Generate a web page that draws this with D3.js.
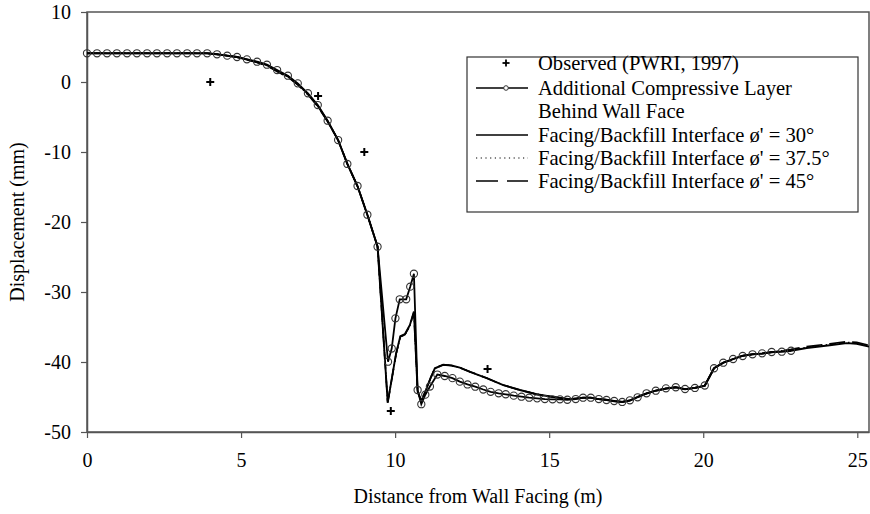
<!DOCTYPE html>
<html><head><meta charset="utf-8">
<script src="https://cdn.jsdelivr.net/npm/d3@7"></script>
<style>
html,body{margin:0;padding:0;background:#fff;}
text{font-family:"Liberation Serif","Times New Roman",serif;fill:#000;}
</style></head>
<body><svg id="c" width="870" height="514"></svg>
<script>
// ---- data ----
const observedX = [4.0, 7.5, 9.0, 9.86, 13.0];
const observedY = [0, -2, -10, -47, -41];

const compX = [0,0.325,0.65,0.97,1.30,1.62,1.95,2.27,2.60,2.92,3.25,3.57,3.90,
  4.22,4.55,4.87,5.19,5.52,5.84,6.17,6.52,6.84,7.17,7.49,7.81,8.15,8.45,8.78,9.10,9.43,
  9.77,9.89,10.01,10.15,10.36,10.49,10.61,
  10.73,10.85,10.98,11.13,11.37,
  11.61,11.86,12.10,12.35,12.60,12.86,13.10,13.36,13.59,13.85,14.10,14.35,14.61,14.86,15.11,15.35,15.59,15.86,
  16.10,16.35,16.61,16.86,17.11,17.37,17.62,17.87,
  18.16,18.46,18.79,19.11,19.41,19.73,20.05,
  20.35,20.65,20.97,21.28,21.60,21.91,22.22,22.55,22.85];
const compY = [4.1,4.1,4.1,4.1,4.1,4.1,4.1,4.1,4.1,4.1,4.1,4.1,4.1,
  3.96,3.76,3.57,3.24,2.9,2.47,1.71,0.9,-0.19,-1.61,-3.29,-5.53,-8.29,-11.71,-14.86,-18.96,-23.53,
  -39.96,-38.07,-33.76,-31.04,-31.04,-29.24,-27.39,
  -44.0,-46.03,-44.67,-43.5,-41.79,
  -42.0,-42.31,-42.81,-43.21,-43.53,-43.93,-44.26,-44.47,-44.61,-44.81,-44.96,-45.1,-45.19,-45.29,-45.33,-45.33,-45.39,-45.29,
  -45.1,-45.1,-45.29,-45.43,-45.57,-45.71,-45.47,-45.04,
  -44.47,-44.1,-43.76,-43.61,-43.86,-43.71,-43.36,
  -40.89,-40.1,-39.57,-39.14,-38.9,-38.76,-38.57,-38.53,-38.39];

const ifaceX = [0,0.65,1.3,1.95,2.6,3.25,3.9,4.22,4.55,4.87,5.19,5.52,5.84,6.17,6.52,6.84,7.17,7.49,7.81,8.15,8.45,8.78,9.10,9.43,
  9.76,10.03,10.17,10.32,10.48,10.61,10.73,10.85,11.0,11.15,11.29,11.56,11.83,12.10,12.43,12.97,13.51,14.05,14.59,15.13,15.67,
  16.10,16.35,16.61,16.86,17.11,17.37,17.62,17.87,18.16,18.46,18.79,19.11,19.41,19.73,20.05,
  20.35,20.65,20.97,21.28,21.60,21.91,22.22,22.55,22.85,23.36,24.11,24.66,24.98,25.38];
const iface30 = [4.1,4.1,4.1,4.1,4.1,4.1,4.1,3.96,3.76,3.57,3.22,2.85,2.4,1.6,0.8,-0.3,-1.7,-3.4,-5.6,-8.3,-11.7,-14.9,-19.0,-23.5,
  -45.8,-38.8,-36.3,-36.0,-34.7,-32.8,-44.2,-45.6,-44.0,-42.3,-40.9,-40.4,-40.5,-40.8,-41.4,-42.3,-43.3,-44.0,-44.6,-45.0,-45.3,
  -45.1,-45.1,-45.3,-45.4,-45.6,-45.7,-45.5,-45.0,-44.5,-44.1,-43.8,-43.6,-43.9,-43.7,-43.4,
  -40.9,-40.1,-39.6,-39.1,-38.9,-38.8,-38.6,-38.5,-38.4,-38.0,-37.6,-37.3,-37.4,-37.8];
const iface375 = [4.1,4.1,4.1,4.1,4.1,4.1,4.1,3.96,3.76,3.55,3.2,2.82,2.35,1.55,0.75,-0.35,-1.75,-3.45,-5.6,-8.3,-11.7,-14.9,-19.0,-23.5,
  -45.8,-38.9,-36.4,-36.1,-34.8,-32.9,-44.2,-45.6,-44.0,-42.3,-40.9,-40.4,-40.5,-40.8,-41.4,-42.3,-43.3,-44.0,-44.6,-45.0,-45.3,
  -45.1,-45.1,-45.3,-45.4,-45.6,-45.7,-45.5,-45.0,-44.5,-44.1,-43.8,-43.6,-43.9,-43.7,-43.4,
  -40.9,-40.1,-39.6,-39.1,-38.9,-38.8,-38.6,-38.4,-38.3,-37.9,-37.5,-37.2,-37.3,-37.7];
const iface45 = [4.1,4.1,4.1,4.1,4.1,4.1,4.1,3.96,3.76,3.55,3.18,2.8,2.3,1.5,0.7,-0.4,-1.8,-3.5,-5.65,-8.3,-11.7,-14.9,-19.0,-23.5,
  -45.8,-38.9,-36.4,-36.1,-34.8,-32.9,-44.2,-45.6,-44.0,-42.3,-40.9,-40.4,-40.5,-40.8,-41.4,-42.3,-43.3,-44.0,-44.6,-45.0,-45.3,
  -45.1,-45.1,-45.3,-45.4,-45.6,-45.7,-45.5,-45.0,-44.5,-44.1,-43.8,-43.6,-43.9,-43.7,-43.4,
  -40.9,-40.1,-39.6,-39.1,-38.9,-38.8,-38.6,-38.4,-38.2,-37.8,-37.4,-37.1,-37.2,-37.6];

const xTicks = [0, 5, 10, 15, 20, 25];
const yTicks = [10, 0, -10, -20, -30, -40, -50];
const legendLabels = ["Observed (PWRI, 1997)", "Additional Compressive Layer", "Behind Wall Face",
  "Facing/Backfill Interface \u00f8' = 30\u00b0", "Facing/Backfill Interface \u00f8' = 37.5\u00b0",
  "Facing/Backfill Interface \u00f8' = 45\u00b0"];

// ---- layout ----
const L = 87, R = 869, T = 12, B = 432;
const FONT = '"Liberation Serif","Times New Roman",serif';
const svg = d3.select("#c");
const x = d3.scaleLinear().domain([0, 25.38]).range([L, R]);
const y = d3.scaleLinear().domain([-50, 10]).range([B, T]);
const axisColor = "#555";

svg.append("rect").attr("x", L).attr("y", T).attr("width", R - L).attr("height", B - T)
  .attr("fill", "none").attr("stroke", axisColor).attr("stroke-width", 1.5);

const gx = svg.append("g").attr("transform", `translate(0,${B})`)
  .call(d3.axisBottom(x).tickValues(xTicks).tickSize(6).tickSizeOuter(0).tickPadding(15).tickFormat(d => String(d)));
const gy = svg.append("g").attr("transform", `translate(${L},0)`)
  .call(d3.axisLeft(y).tickValues(yTicks).tickSize(6).tickSizeOuter(0).tickPadding(10).tickFormat(d => String(d)));
[gx, gy].forEach(g => {
  g.attr("font-family", FONT).attr("font-size", 20);
  g.select(".domain").attr("stroke", axisColor).attr("stroke-width", 1.5);
  g.selectAll(".tick line").attr("stroke", axisColor).attr("stroke-width", 1.2);
  g.selectAll(".tick text").attr("fill", "#000");
});

svg.append("text").attr("x", (L + R) / 2).attr("y", 503).attr("text-anchor", "middle")
  .attr("font-size", 20).text("Distance from Wall Facing (m)");
svg.append("text").attr("transform", `translate(24,${(T + B) / 2}) rotate(-90)`).attr("text-anchor", "middle")
  .attr("font-size", 20).text("Displacement (mm)");

const line = d3.line().x(d => x(d[0])).y(d => y(d[1]));
const plot = svg.append("g");
const ifacePts = arr => ifaceX.map((v, i) => [v, arr[i]]);
plot.append("path").datum(ifacePts(iface45)).attr("d", line).attr("fill", "none")
  .attr("stroke", "#000").attr("stroke-width", 1.6).attr("stroke-dasharray", "16,7");
plot.append("path").datum(ifacePts(iface375)).attr("d", line).attr("fill", "none")
  .attr("stroke", "#000").attr("stroke-width", 1.5).attr("stroke-dasharray", "1.5,3");
plot.append("path").datum(ifacePts(iface30)).attr("d", line).attr("fill", "none")
  .attr("stroke", "#000").attr("stroke-width", 1.9);

const compPts = compX.map((v, i) => [v, compY[i]]);
plot.append("path").datum(compPts).attr("d", line).attr("fill", "none")
  .attr("stroke", "#000").attr("stroke-width", 1.8);
plot.selectAll("circle.c").data(compPts).join("circle").attr("class", "c")
  .attr("cx", d => x(d[0])).attr("cy", d => y(d[1])).attr("r", 3.6)
  .attr("fill", "none").attr("stroke", "#333").attr("stroke-width", 1.1);

const obsPts = observedX.map((v, i) => [v, observedY[i]]);
const cross = plot.selectAll("g.obs").data(obsPts).join("g").attr("class", "obs")
  .attr("transform", d => `translate(${x(d[0])},${y(d[1])})`);
cross.append("line").attr("x1", -4).attr("x2", 4).attr("stroke", "#000").attr("stroke-width", 2);
cross.append("line").attr("y1", -4).attr("y2", 4).attr("stroke", "#000").attr("stroke-width", 2);

// ---- legend ----
const lg = svg.append("g");
lg.append("rect").attr("x", 467).attr("y", 57).attr("width", 391).attr("height", 155)
  .attr("fill", "#fff").attr("stroke", "#333").attr("stroke-width", 1.2);
const rowsY = [63, 88, 111, 135, 158, 181];
const sx1 = 476, sx2 = 528, sxc = 506, tx = 538;
legendLabels.forEach((t, i) => {
  lg.append("text").attr("x", tx).attr("y", rowsY[i]).attr("dy", "0.35em").attr("font-size", 20.6).text(t);
});
lg.append("line").attr("x1", sxc - 3.5).attr("x2", sxc + 3.5).attr("y1", rowsY[0]).attr("y2", rowsY[0]).attr("stroke", "#000").attr("stroke-width", 1.8);
lg.append("line").attr("x1", sxc).attr("x2", sxc).attr("y1", rowsY[0] - 3.5).attr("y2", rowsY[0] + 3.5).attr("stroke", "#000").attr("stroke-width", 1.8);
lg.append("line").attr("x1", sx1).attr("x2", sx2).attr("y1", rowsY[1]).attr("y2", rowsY[1]).attr("stroke", "#000").attr("stroke-width", 1.7);
lg.append("circle").attr("cx", sxc).attr("cy", rowsY[1]).attr("r", 2.3).attr("fill", "#fff").attr("stroke", "#333").attr("stroke-width", 1);
lg.append("line").attr("x1", sx1).attr("x2", sx2).attr("y1", rowsY[3]).attr("y2", rowsY[3]).attr("stroke", "#000").attr("stroke-width", 1.6);
lg.append("line").attr("x1", sx1).attr("x2", sx2).attr("y1", rowsY[4]).attr("y2", rowsY[4]).attr("stroke", "#000").attr("stroke-width", 1.2).attr("stroke-dasharray", "1.2,3.5");
lg.append("line").attr("x1", sx1).attr("x2", sx2).attr("y1", rowsY[5]).attr("y2", rowsY[5]).attr("stroke", "#000").attr("stroke-width", 1.6).attr("stroke-dasharray", "22,9");
</script></body></html>
